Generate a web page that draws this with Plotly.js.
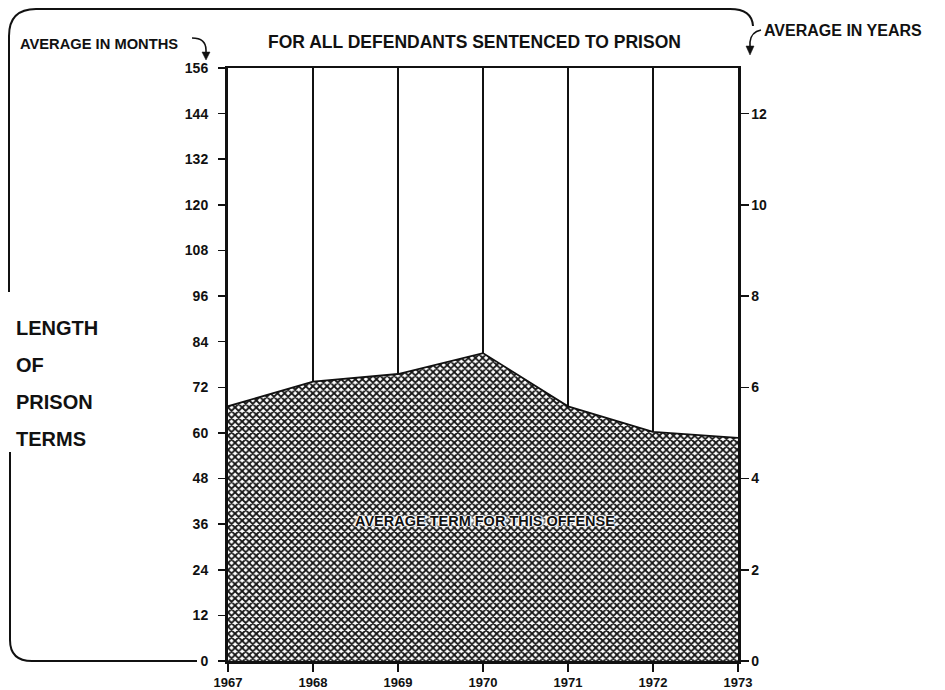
<!DOCTYPE html>
<html>
<head>
<meta charset="utf-8">
<script src="https://cdn.plot.ly/plotly-3.0.1.min.js"></script>
<style>html,body{margin:0;padding:0;background:#fff;}#chart{width:945px;height:690px;}</style>
</head>
<body>
<div id="chart"></div>
<script>
// ---- data ----
const years = [1967, 1968, 1969, 1970, 1971, 1972, 1973];
const avgMonths = [67, 73.5, 75.5, 81, 67, 60.3, 58.7];
const monthTicks = [0, 12, 24, 36, 48, 60, 72, 84, 96, 108, 120, 132, 144, 156];
const yearTicks = [0, 2, 4, 6, 8, 10, 12];
const yearLabels = ['0', '2', '4', '6', '8', '10', '12'];
const titleText = 'FOR ALL DEFENDANTS SENTENCED TO PRISON';
const leftNote = 'AVERAGE IN MONTHS';
const rightNote = 'AVERAGE IN YEARS';
const sideLabel = ['LENGTH', 'OF', 'PRISON', 'TERMS'];
const areaLabel = 'AVERAGE TERM FOR THIS OFFENSE';

// ---- layout helpers (pixel -> paper) ----
const L = 228, R = 738, T = 68, B = 661;
const X = p => (p - L) / (R - L);
const Y = p => (B - p) / (B - T);
const FONT = 'Liberation Sans, Arial, sans-serif';

const traces = [
  {
    x: years, y: avgMonths, type: 'scatter', mode: 'lines',
    line: {color: '#111', width: 1.8},
    fill: 'tozeroy',
    fillpattern: {shape: 'x', bgcolor: '#ffffff', fgcolor: '#161616', size: 5, solidity: 0.6},
    hoverinfo: 'skip', showlegend: false
  },
  {
    x: years, y: avgMonths.map(v => v / 12), yaxis: 'y2', type: 'scatter', mode: 'lines',
    line: {color: 'rgba(0,0,0,0)', width: 0}, hoverinfo: 'skip', showlegend: false
  }
];

const sideAnn = sideLabel.map((t, i) => ({
  text: t, xref: 'paper', yref: 'paper', x: X(14), y: Y(328 + i * 37),
  xanchor: 'left', yanchor: 'middle', showarrow: false,
  font: {family: FONT, size: 20, color: '#111', weight: 'bold'}
}));

const layout = {
  width: 945, height: 690,
  margin: {l: L, r: 945 - R, t: T, b: 690 - B, pad: 0},
  paper_bgcolor: '#fff', plot_bgcolor: '#fff',
  showlegend: false,
  xaxis: {
    range: [1967, 1973], tickvals: years, ticktext: years.map(String),
    ticks: 'outside', ticklen: 8, tickwidth: 1.5, tickcolor: '#111',
    showgrid: true, gridcolor: '#111', gridwidth: 1.5,
    showline: true, linecolor: '#111', linewidth: 2.5, mirror: true,
    zeroline: false, layer: 'above traces', ticklabelstandoff: 0,
    tickfont: {family: FONT, size: 13, color: '#111', weight: 'bold'}
  },
  yaxis: {
    range: [0, 156], tickvals: monthTicks, ticktext: monthTicks.map(String),
    ticks: 'outside', ticklen: 7, tickwidth: 1.5, tickcolor: '#111',
    showgrid: false, zeroline: false, ticklabelstandoff: 7,
    showline: true, linecolor: '#111', linewidth: 3,
    layer: 'above traces',
    tickfont: {family: FONT, size: 14, color: '#111', weight: 'bold'}
  },
  yaxis2: {
    overlaying: 'y', side: 'right', range: [0, 13],
    tickvals: yearTicks, ticktext: yearLabels,
    ticks: 'outside', ticklen: 8, tickwidth: 1.5, tickcolor: '#111',
    showgrid: false, zeroline: false, ticklabelstandoff: 0,
    showline: true, linecolor: '#111', linewidth: 2.5,
    tickfont: {family: FONT, size: 14, color: '#111', weight: 'bold'}
  },
  annotations: [
    {text: titleText, xref: 'paper', yref: 'paper', x: X(474), y: Y(42), showarrow: false,
     xanchor: 'center', yanchor: 'middle',
     font: {family: FONT, size: 17.5, color: '#111', weight: 'bold'}},
    {text: leftNote, xref: 'paper', yref: 'paper', x: X(18), y: Y(44), showarrow: false,
     xanchor: 'left', yanchor: 'middle',
     font: {family: FONT, size: 14.7, color: '#111', weight: 'bold'}},
    {text: rightNote, xref: 'paper', yref: 'paper', x: X(762), y: Y(31), showarrow: false,
     xanchor: 'left', yanchor: 'middle',
     font: {family: FONT, size: 16, color: '#111', weight: 'bold'}},
    {text: areaLabel, xref: 'paper', yref: 'paper', x: X(485), y: Y(521), showarrow: false,
     xanchor: 'center', yanchor: 'middle',
     font: {family: FONT, size: 14.5, color: '#111', weight: 'bold',
            shadow: '1px 0 1px #fff, -1px 0 1px #fff, 0 1px 1px #fff, 0 -1px 1px #fff, 2px 0 2px #fff, -2px 0 2px #fff'}}
  ].concat(sideAnn),
  shapes: [
    // top bracket
    {type: 'path', xref: 'paper', yref: 'paper', line: {color: '#111', width: 2},
     path: `M ${X(9)},${Y(292)} L ${X(9)},${Y(36)} Q ${X(9)},${Y(9)} ${X(36)},${Y(9)} L ${X(730)},${Y(9)} Q ${X(752)},${Y(9)} ${X(753)},${Y(26)}`},
    // bottom bracket
    {type: 'path', xref: 'paper', yref: 'paper', line: {color: '#111', width: 2},
     path: `M ${X(10)},${Y(452)} L ${X(10)},${Y(640)} Q ${X(10)},${Y(661)} ${X(32)},${Y(661)} L ${X(197)},${Y(661)}`},
    // left curved arrow
    {type: 'path', xref: 'paper', yref: 'paper', line: {color: '#111', width: 1.6},
     path: `M ${X(192)},${Y(38)} Q ${X(206)},${Y(38)} ${X(206)},${Y(50)} L ${X(206)},${Y(54)}`},
    {type: 'path', xref: 'paper', yref: 'paper', line: {color: '#111', width: 0.5}, fillcolor: '#111',
     path: `M ${X(202)},${Y(52)} L ${X(210)},${Y(52)} L ${X(206)},${Y(60)} Z`},
    // right curved arrow
    {type: 'path', xref: 'paper', yref: 'paper', line: {color: '#111', width: 1.6},
     path: `M ${X(761)},${Y(30)} Q ${X(751)},${Y(32)} ${X(750)},${Y(42)} L ${X(750)},${Y(48)}`},
    {type: 'path', xref: 'paper', yref: 'paper', line: {color: '#111', width: 0.5}, fillcolor: '#111',
     path: `M ${X(746)},${Y(46)} L ${X(754)},${Y(46)} L ${X(750)},${Y(55)} Z`}
  ]
};

Plotly.newPlot('chart', traces, layout, {staticPlot: true, displayModeBar: false});
</script>
</body>
</html>
